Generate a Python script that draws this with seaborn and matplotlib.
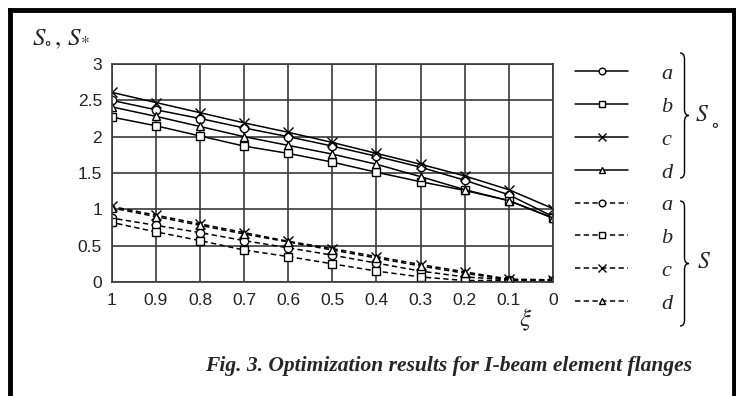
import seaborn as sns
import matplotlib.pyplot as plt
from matplotlib.path import Path
from matplotlib.patches import PathPatch

# values
xi = [1.0, 0.9, 0.8, 0.7, 0.6, 0.5, 0.4, 0.3, 0.2, 0.1, 0.0]

so_a = [2.50, 2.37, 2.25, 2.12, 2.00, 1.87, 1.73, 1.58, 1.40, 1.20, 0.90]
so_b = [2.27, 2.15, 2.01, 1.87, 1.77, 1.65, 1.51, 1.38, 1.26, 1.12, 0.88]
so_c = [2.61, 2.47, 2.33, 2.19, 2.06, 1.92, 1.77, 1.62, 1.46, 1.27, 1.01]
so_d = [2.41, 2.28, 2.14, 2.00, 1.88, 1.76, 1.62, 1.45, 1.27, 1.12, 0.88]

s_a = [0.88, 0.78, 0.68, 0.57, 0.47, 0.37, 0.26, 0.15, 0.07, 0.03, 0.02]
s_b = [0.82, 0.69, 0.57, 0.44, 0.35, 0.25, 0.15, 0.07, 0.02, 0.02, 0.02]
s_c = [1.04, 0.92, 0.80, 0.68, 0.56, 0.46, 0.35, 0.24, 0.14, 0.04, 0.03]
s_d = [1.02, 0.90, 0.78, 0.66, 0.55, 0.44, 0.33, 0.22, 0.12, 0.03, 0.03]

letters = ["a", "b", "c", "d"]
markers = ["o", "s", "x", "^"]
x_ticks = [1, 0.9, 0.8, 0.7, 0.6, 0.5, 0.4, 0.3, 0.2, 0.1, 0]
x_labels = ["1", "0.9", "0.8", "0.7", "0.6", "0.5", "0.4", "0.3", "0.2", "0.1", "0"]
y_ticks = [0, 0.5, 1, 1.5, 2, 2.5, 3]
y_labels = ["0", "0.5", "1", "1.5", "2", "2.5", "3"]
caption = "Fig. 3. Optimization results for I-beam element flanges"

W, H = 736, 396

sns.set_style("white")
plt.rcParams["mathtext.fontset"] = "stix"
plt.rcParams["font.family"] = ["Liberation Sans", "DejaVu Sans"]

fig = plt.figure(figsize=(W / 100, H / 100), dpi=100)


def px(x, y):
    return x / W, 1 - y / H


ax = fig.add_axes([111.7 / W, 1 - 282 / H, (553 - 111.7) / W, (282 - 64) / H])

handles = []
for series, ls in [((so_a, so_b, so_c, so_d), "-"), ((s_a, s_b, s_c, s_d), (0, (3.5, 2.2)))]:
    for vals, m in zip(series, markers):
        sns.lineplot(x=xi, y=vals, ax=ax, color="black", linewidth=1.1, linestyle=ls,
                     marker=m, markersize=6 if m != "x" else 6.5, markerfacecolor="white",
                     markeredgecolor="black", markeredgewidth=1.0)
        handles.append(ax.get_lines()[-1])

ax.set_xlim(1, 0)
ax.set_ylim(0, 3)
ax.set_xticks(x_ticks)
ax.set_xticklabels(x_labels)
ax.set_yticks(y_ticks)
ax.set_yticklabels(y_labels)
ax.tick_params(axis="both", labelsize=12.5, colors="#222222", length=3, width=1, direction="out")
ax.tick_params(axis="x", pad=5)
ax.tick_params(axis="y", pad=4)
ax.grid(True, color="#3a3a3a", linewidth=1.2)
for sp in ax.spines.values():
    sp.set_color("#3a3a3a")
    sp.set_linewidth(1.2)
ax.set_xlabel("")
ax.set_ylabel("")

# legend: a b c d for S_o (solid) then S_* (dashed)
leg = fig.legend(handles, letters * 2, loc="upper left", bbox_to_anchor=px(575, 63.7),
                 frameon=False, borderpad=0, borderaxespad=0, handlelength=2.4,
                 handletextpad=1.5, labelspacing=0.55, markerscale=0.8,
                 prop={"family": "Liberation Serif", "style": "italic", "size": 16})


def brace(x0, y0, y1, w):
    ym = (y0 + y1) / 2
    r = 6
    xs = x0 + w * 0.5
    pts = [(x0, y0), (xs, y0), (xs, y0 + r), (xs, y0 + r * 1.5),
           (xs, ym - r), (xs, ym), (x0 + w, ym),
           (xs, ym), (xs, ym + r), (xs, ym + r * 1.5),
           (xs, y1 - r), (xs, y1), (x0, y1)]
    codes = [Path.MOVETO, Path.CURVE3, Path.CURVE3, Path.LINETO,
             Path.LINETO, Path.CURVE3, Path.CURVE3,
             Path.CURVE3, Path.CURVE3, Path.LINETO,
             Path.LINETO, Path.CURVE3, Path.CURVE3]
    path = Path([px(*p) for p in pts], codes)
    fig.patches.append(PathPatch(path, transform=fig.transFigure, fill=False,
                                 edgecolor="black", linewidth=1.0))


brace(680, 53, 178, 9)
brace(680, 201, 326, 9)

fig.text(*px(695, 115), r"$S$", fontsize=17, va="center", ha="left")
fig.text(*px(711, 124), r"$\circ$", fontsize=14, va="center", ha="left")
fig.text(*px(697, 262), r"$S$", fontsize=17, va="center", ha="left")

fig.text(*px(32, 39), r"$S_{\circ}\,,\,S_{*}$", fontsize=18, va="center", ha="left")
fig.text(*px(526, 320), r"$\xi$", fontsize=18, va="center", ha="center")

fig.text(*px(205, 366), caption, fontsize=15.5, va="center", ha="left",
         family="Liberation Serif", style="italic", weight="bold")

# thick frame around the figure
for (xa, ya), (xb, yb) in [((9.5, 9.5), (9.5, 400)), ((9.5, 9.5), (733.5, 9.5)),
                           ((733.5, 9.5), (733.5, 400))]:
    fig.add_artist(plt.Line2D([xa / W, xb / W], [1 - ya / H, 1 - yb / H],
                              transform=fig.transFigure, color="black", linewidth=3.5,
                              solid_capstyle="projecting"))

fig.savefig("out.png", dpi=100)
